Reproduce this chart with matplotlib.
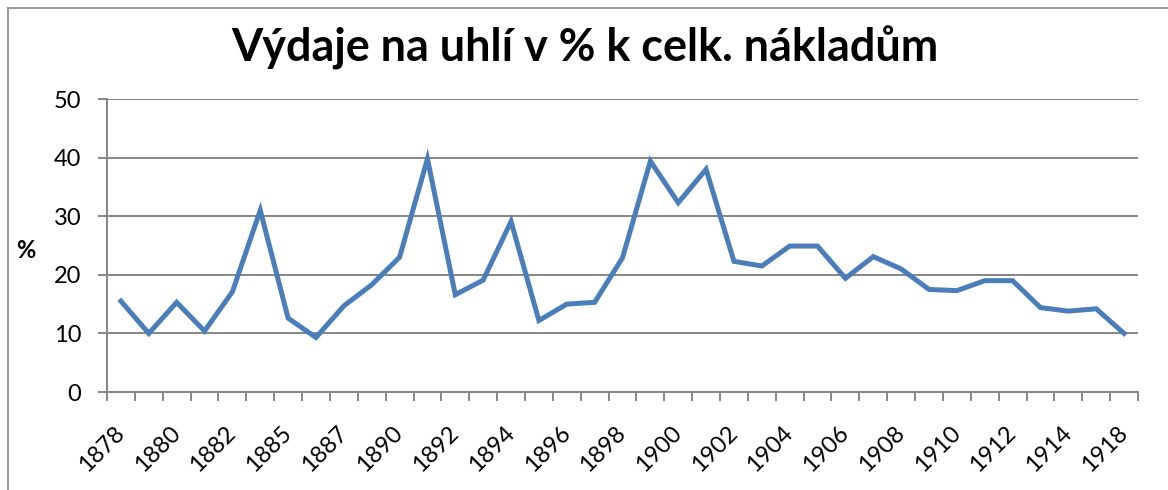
import matplotlib
matplotlib.use("Agg")
import matplotlib.pyplot as plt
import matplotlib.transforms as mtrans
import numpy as np

plt.rcParams['font.family'] = ['Lato', 'DejaVu Sans']

# category labels (only every other one is shown in the chart)
years = ["1878", "1879", "1880", "1881", "1882", "1884", "1885", "1886", "1887",
         "1889", "1890", "1891", "1892", "1893", "1894", "1895", "1896", "1897",
         "1898", "1899", "1900", "1901", "1902", "1903", "1904", "1905", "1906",
         "1907", "1908", "1909", "1910", "1911", "1912", "1913", "1914", "1916",
         "1918"]
coal_pct = [15.5, 10.0, 15.3, 10.4, 17.1, 31.0, 12.6, 9.3, 14.7, 18.3, 23.0,
            39.8, 16.6, 19.1, 29.1, 12.2, 15.0, 15.3, 22.9, 39.4, 32.3, 38.0,
            22.3, 21.5, 24.9, 24.9, 19.4, 23.1, 21.0, 17.5, 17.3, 19.0, 19.0,
            14.4, 13.8, 14.2, 10.0]
y_ticks = [0, 10, 20, 30, 40, 50]

grey = '#868686'
fig = plt.figure(figsize=(11.68, 4.9), dpi=100)
ax = fig.add_axes([107/1168, 98/490, 1031/1168, 293/490])

x = np.arange(len(years))
ax.plot(x, coal_pct, color='#4A7EBB', lw=3.6, solid_joinstyle='miter', zorder=3)

ax.set_xlim(-0.5, len(years) - 0.5)
ax.set_ylim(0, 50)
ax.set_yticks(y_ticks)
ax.yaxis.grid(True, color=grey, lw=1.4)
ax.set_axisbelow(True)

ax.set_xticks(x[::2])
ax.set_xticklabels(years[::2], rotation=45, ha='right', va='center',
                   rotation_mode='anchor', fontsize=17)
off = mtrans.ScaledTranslation(12/100, 0, fig.dpi_scale_trans)
for lab in ax.get_xticklabels():
    lab.set_transform(lab.get_transform() + off)
ax.set_xticks(np.arange(len(years) + 1) - 0.5, minor=True)
ax.tick_params(axis='x', which='major', length=0, pad=27)
ax.tick_params(axis='x', which='minor', length=6.5, width=1.4, color=grey, direction='out')
ax.tick_params(axis='y', length=6.5, width=1.4, color=grey, labelsize=17, pad=12)

for s in ['top', 'right']:
    ax.spines[s].set_visible(False)
for s in ['left', 'bottom']:
    ax.spines[s].set_color(grey)
    ax.spines[s].set_linewidth(1.4)

fig.text(26/1168, 1 - 250/490, '%', fontsize=17, fontweight='bold', ha='center', va='center')
fig.text(585/1168, 1 - 48/490, 'Výdaje na uhlí v % k celk. nákladům', fontsize=32.4,
         fontweight='bold', ha='center', va='center')

# outer chart frame
fig.add_artist(plt.Line2D([8/1168, 8/1168], [0, 1 - 8/490], color=grey, lw=1.2))
fig.add_artist(plt.Line2D([8/1168, 1], [1 - 8/490, 1 - 8/490], color=grey, lw=1.2))

fig.savefig('out.png', dpi=100)
